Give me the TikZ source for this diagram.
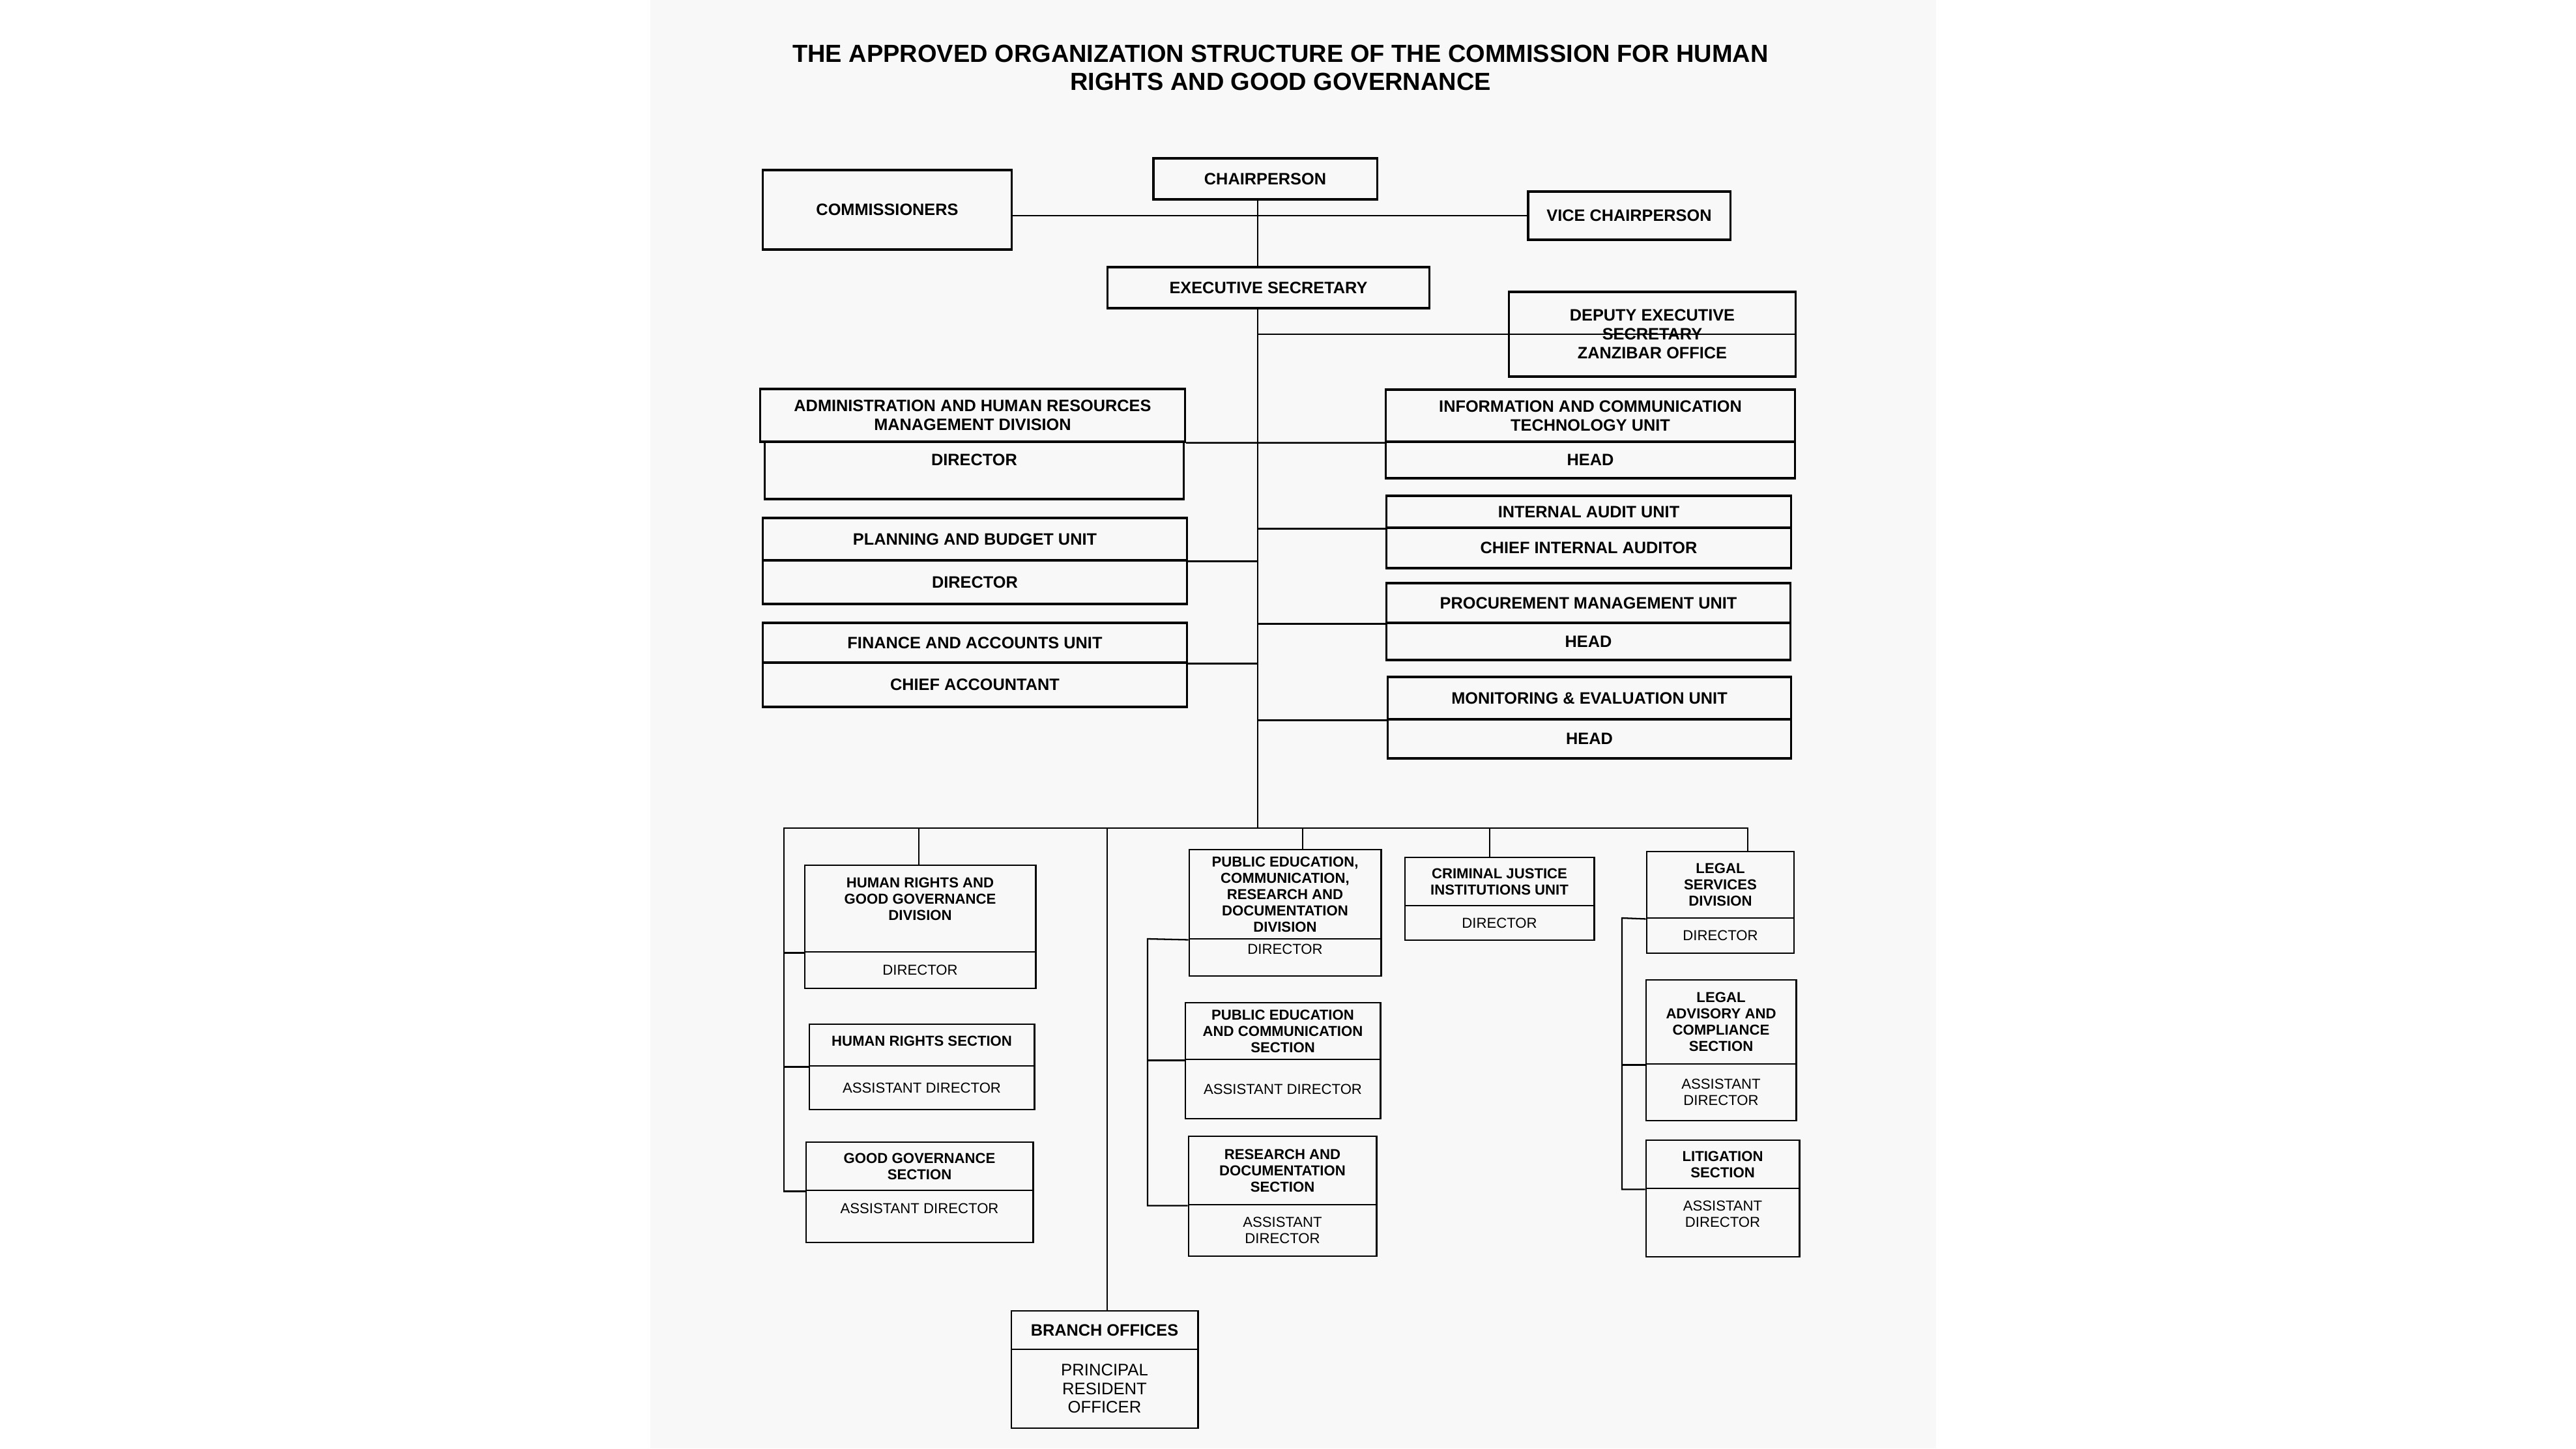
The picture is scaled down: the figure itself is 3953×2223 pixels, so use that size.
\documentclass[tikz,border=0pt]{standalone}
\usepackage{fontspec}
\setmainfont{Liberation Sans}
\definecolor{pagegray}{gray}{0.972}

\begin{document}
\begin{tikzpicture}[x=0.01cm,y=-0.01cm,
    unit/.style={font=\bfseries\fontsize{6.3}{7.1}\selectfont},
    post/.style={font=\fontsize{6.3}{7.1}\selectfont}]
\useasboundingbox (0,0) rectangle (3953,2223);
\fill[pagegray] (998,0) rectangle (2971,2223);
\node[align=center,font=\bfseries\fontsize{10.8}{12.3}\selectfont] (title) at (1965,104)
    {THE APPROVED ORGANIZATION STRUCTURE OF THE COMMISSION FOR HUMAN\\RIGHTS AND GOOD GOVERNANCE};

% top of the structure
\begin{scope}[every node/.style={draw,line width=0.9pt,rectangle,align=center,inner sep=1pt,
              font=\bfseries\fontsize{7.2}{8.3}\selectfont}]
    \node[minimum width=3.43cm,minimum height=0.63cm] (chair) at (1941.5,274.5) {CHAIRPERSON};
    \node[minimum width=3.81cm,minimum height=1.22cm] (comm) at (1361.5,322) {COMMISSIONERS};
    \node[minimum width=3.10cm,minimum height=0.74cm] (vice) at (2500,331) {VICE CHAIRPERSON};
    \node[minimum width=4.93cm,minimum height=0.63cm] (exec) at (1946.5,441.5) {EXECUTIVE SECRETARY};
    \node[minimum width=4.39cm,minimum height=1.30cm] (dep) at (2535.5,513) {DEPUTY EXECUTIVE\\SECRETARY\\ZANZIBAR OFFICE};
    \node[minimum width=6.51cm,minimum height=0.81cm] (adm) at (1492.5,637.5) {ADMINISTRATION AND HUMAN RESOURCES\\MANAGEMENT DIVISION};
    \node[minimum width=6.42cm,minimum height=0.88cm,text depth=0.32cm] (admd) at (1495,722) {DIRECTOR};
    \node[minimum width=6.50cm,minimum height=0.65cm] (plan) at (1496,827.5) {PLANNING AND BUDGET UNIT};
    \node[minimum width=6.50cm,minimum height=0.67cm] (pland) at (1496,893.5) {DIRECTOR};
    \node[minimum width=6.50cm,minimum height=0.61cm] (fin) at (1496,986.5) {FINANCE AND ACCOUNTS UNIT};
    \node[minimum width=6.50cm,minimum height=0.68cm] (find) at (1496,1051) {CHIEF ACCOUNTANT};
    \node[minimum width=6.27cm,minimum height=0.80cm] (ict) at (2440.5,638) {INFORMATION AND COMMUNICATION\\TECHNOLOGY UNIT};
    \node[minimum width=6.27cm,minimum height=0.56cm] (ictd) at (2440.5,706) {HEAD};
    \node[minimum width=6.20cm,minimum height=0.49cm] (aud) at (2438,785.5) {INTERNAL AUDIT UNIT};
    \node[minimum width=6.20cm,minimum height=0.62cm] (audd) at (2438,841) {CHIEF INTERNAL AUDITOR};
    \node[minimum width=6.19cm,minimum height=0.61cm] (proc) at (2437.5,925.5) {PROCUREMENT MANAGEMENT UNIT};
    \node[minimum width=6.19cm,minimum height=0.57cm] (procd) at (2437.5,984.5) {HEAD};
    \node[minimum width=6.18cm,minimum height=0.65cm] (mne) at (2439,1071.5) {MONITORING \& EVALUATION UNIT};
    \node[minimum width=6.18cm,minimum height=0.60cm] (mned) at (2439,1134) {HEAD};
\end{scope}

% divisions, units and sections
\begin{scope}[every node/.style={draw,line width=0.8pt,rectangle,align=center,inner sep=1pt}]
    \node[unit,minimum width=3.54cm,minimum height=1.33cm,text depth=0.30cm] (hrgg) at (1412,1394.5) {HUMAN RIGHTS AND\\GOOD GOVERNANCE\\DIVISION};
    \node[post,minimum width=3.54cm,minimum height=0.56cm] (hrggd) at (1412,1489) {DIRECTOR};
    \node[unit,minimum width=3.45cm,minimum height=0.64cm,text depth=0.12cm] (hrs) at (1414.5,1604) {HUMAN RIGHTS SECTION};
    \node[post,minimum width=3.45cm,minimum height=0.67cm] (hrsd) at (1414.5,1669.5) {ASSISTANT DIRECTOR};
    \node[unit,minimum width=3.48cm,minimum height=0.74cm] (ggs) at (1411,1790) {GOOD GOVERNANCE\\SECTION};
    \node[post,minimum width=3.48cm,minimum height=0.80cm,text depth=0.24cm] (ggsd) at (1411,1867) {ASSISTANT DIRECTOR};
    \node[unit,minimum width=2.94cm,minimum height=1.37cm] (ped) at (1972,1372.5) {PUBLIC EDUCATION,\\COMMUNICATION,\\RESEARCH AND\\DOCUMENTATION\\DIVISION};
    \node[post,minimum width=2.94cm,minimum height=0.57cm,text depth=0.26cm] (pedd) at (1972,1469.5) {DIRECTOR};
    \node[unit,minimum width=2.99cm,minimum height=0.87cm] (pecs) at (1968.5,1582.5) {PUBLIC EDUCATION\\AND COMMUNICATION\\SECTION};
    \node[post,minimum width=2.99cm,minimum height=0.91cm] (pecsd) at (1968.5,1671.5) {ASSISTANT DIRECTOR};
    \node[unit,minimum width=2.88cm,minimum height=1.05cm] (rds) at (1968,1796.5) {RESEARCH AND\\DOCUMENTATION\\SECTION};
    \node[post,minimum width=2.88cm,minimum height=0.79cm] (rdsd) at (1968,1888.5) {ASSISTANT\\DIRECTOR};
    \node[unit,minimum width=2.90cm,minimum height=0.74cm] (cji) at (2301,1353) {CRIMINAL JUSTICE\\INSTITUTIONS UNIT};
    \node[post,minimum width=2.90cm,minimum height=0.53cm] (cjid) at (2301,1416.5) {DIRECTOR};
    \node[unit,minimum width=2.26cm,minimum height=1.02cm] (lsd) at (2640,1358) {LEGAL\\SERVICES\\DIVISION};
    \node[post,minimum width=2.26cm,minimum height=0.54cm] (lsdd) at (2640,1436) {DIRECTOR};
    \node[unit,minimum width=2.30cm,minimum height=1.29cm] (lacs) at (2641,1568.5) {LEGAL\\ADVISORY AND\\COMPLIANCE\\SECTION};
    \node[post,minimum width=2.30cm,minimum height=0.87cm] (lacsd) at (2641,1676.5) {ASSISTANT\\DIRECTOR};
    \node[unit,minimum width=2.35cm,minimum height=0.74cm] (lit) at (2643.5,1787) {LITIGATION\\SECTION};
    \node[post,minimum width=2.35cm,minimum height=1.05cm,text depth=0.26cm] (litd) at (2643.5,1876.5) {ASSISTANT\\DIRECTOR};
    \node[font=\bfseries\fontsize{7.2}{8.1}\selectfont,minimum width=2.86cm,minimum height=0.59cm] (bro) at (1695,2041.5) {BRANCH OFFICES};
    \node[font=\fontsize{7.3}{8.1}\selectfont,minimum width=2.86cm,minimum height=1.21cm] (brod) at (1695,2131.5) {PRINCIPAL\\RESIDENT\\OFFICER};
\end{scope}

\coordinate (hub) at (1930,1271);
\coordinate (bl) at (1203,1271);
\coordinate (br) at (2682,1271);
\coordinate (dhr) at (1410,1271);
\coordinate (dbr) at (1699,1271);
\coordinate (dpe) at (1999,1271);
\coordinate (dcj) at (2286,1271);
\coordinate (pecol) at (1761,1441);
\coordinate (lgcol) at (2489,1409);

\begin{scope}[line width=0.65pt]
    \draw (vice.west) -- (vice.west -| comm.east);
    \draw (chair.south -| hub) -- (exec.north -| hub);
    \draw (exec.south -| hub) -- (hub);
    \draw (hub |- dep.east) -- (dep.east);
    \draw (adm.south east) -- (ict.south west);
    \draw (plan.south east) -- (plan.south east -| hub);
    \draw (fin.south east) -- (fin.south east -| hub);
    \draw (aud.south west) -- (aud.south west -| hub);
    \draw (proc.south west) -- (proc.south west -| hub);
    \draw (mne.south west) -- (mne.south west -| hub);
    % the long bar under the trunk
    \draw (ggs.south west) -| (bl) -- (br) -- (br |- lsd.north);
    \draw (dhr) -- (dhr |- hrgg.north);
    \draw (hrgg.south west) -- (hrgg.south west -| bl);
    \draw (hrs.south west) -- (hrs.south west -| bl);
    \draw (dbr) -- (dbr |- bro.north);
    \draw (dpe) -- (dpe |- ped.north);
    \draw (dcj) -- (dcj |- cji.north);
    \draw (ped.south west) -- (pecol) |- (rds.south west);
    \draw (pecs.south west) -- (pecs.south west -| pecol);
    \draw (lsd.south west) -- (lgcol) |- (lit.south west);
    \draw (lacs.south west) -- (lacs.south west -| lgcol);
\end{scope}
\end{tikzpicture}
\end{document}
